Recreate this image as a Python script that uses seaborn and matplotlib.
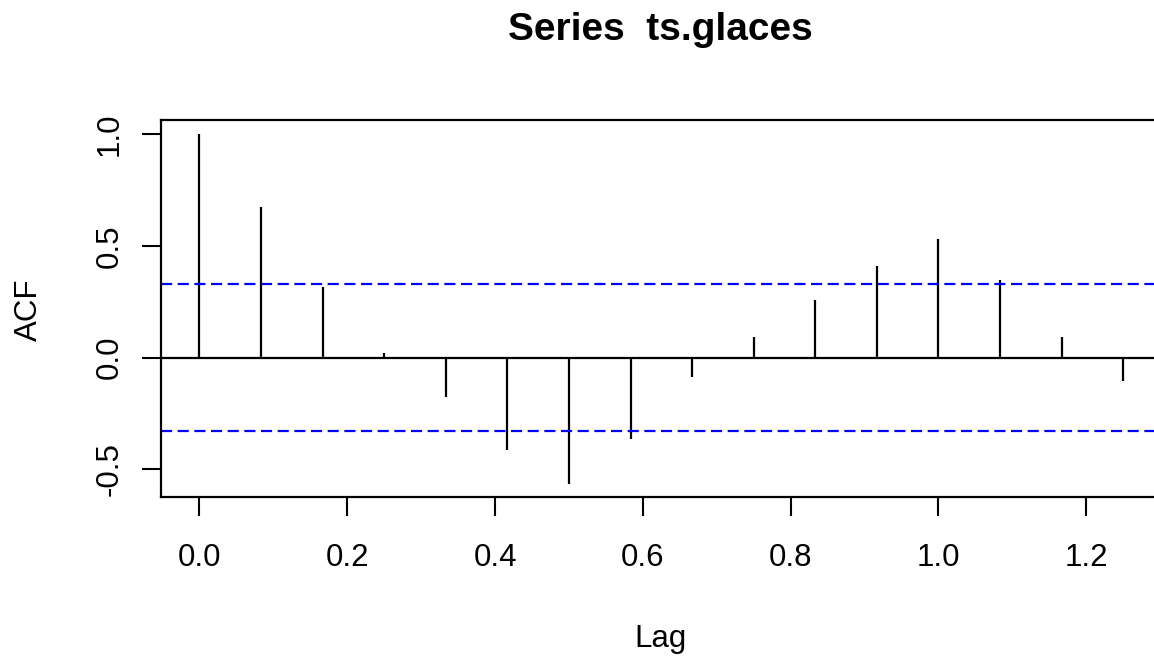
import numpy as np
import matplotlib
matplotlib.use("Agg")
import matplotlib.pyplot as plt
import seaborn as sns

# acf of ts.glaces (monthly series, 36 obs), lags 0..15 months
lag_index = list(range(16))
freq = 12
acf_values = [1.0, 0.675, 0.314, 0.02, -0.178, -0.414, -0.567, -0.366,
              -0.086, 0.093, 0.257, 0.411, 0.529, 0.347, 0.093, -0.105]
ci = 0.327  # 1.96 / sqrt(36)

x_ticks = [0.0, 0.2, 0.4, 0.6, 0.8, 1.0, 1.2]
y_ticks = [-0.5, 0.0, 0.5, 1.0]

sns.set_style("ticks")
plt.rcParams["font.family"] = ["Liberation Sans", "DejaVu Sans"]
plt.rcParams["text.color"] = "black"
plt.rcParams["axes.labelcolor"] = "black"

lags = np.array(lag_index) / freq

fig = plt.figure(figsize=(11.54, 6.57), dpi=100)
W, H = 1154, 657
ax = fig.add_axes([160.7 / W, (H - 497) / H, 999.5 / W, 377 / H])

# stems
ax.vlines(lags, 0, acf_values, colors="black", linewidth=1.6)
ax.axhline(0, color="black", linewidth=1.6)
# confidence bounds
for c in (ci, -ci):
    ax.axhline(c, color="blue", linewidth=1.6, linestyle=(0, (5, 2.5)))

ax.set_xlim(-0.0525, 1.3)
ax.set_ylim(-0.624, 1.0626)

ax.set_xticks(x_ticks)
ax.set_xticklabels([f"{v:.1f}" for v in x_ticks])
ax.set_yticks(y_ticks)
ax.set_yticklabels([f"{v:.1f}" for v in y_ticks])

ax.tick_params(axis="both", direction="out", length=14, width=1.5,
               colors="black", labelsize=22.5)
ax.tick_params(axis="x", pad=19)
ax.tick_params(axis="y", pad=17)
for lab in ax.get_yticklabels():
    lab.set_rotation(90)
    lab.set_rotation_mode("anchor")
    lab.set_ha("center")
    lab.set_va("baseline")

for sp in ax.spines.values():
    sp.set_color("black")
    sp.set_linewidth(1.6)

ax.set_xlabel("Lag", fontsize=22.5, color="black")
ax.xaxis.set_label_coords(0.5, (497 - 646.7) / 377)
ax.xaxis.label.set_va("baseline")

ax.set_ylabel("ACF", fontsize=22.5, rotation=90, color="black")
ax.yaxis.set_label_coords((37 - 160.7) / 999.5, (497 - 310) / 377)
ax.yaxis.label.set_rotation_mode("anchor")
ax.yaxis.label.set_ha("center")
ax.yaxis.label.set_va("baseline")

ax.set_title("Series  ts.glaces", fontsize=28, fontweight="bold", color="black",
             y=(497 - 40) / 377, va="baseline", pad=0)

fig.savefig("out.png", dpi=100)
